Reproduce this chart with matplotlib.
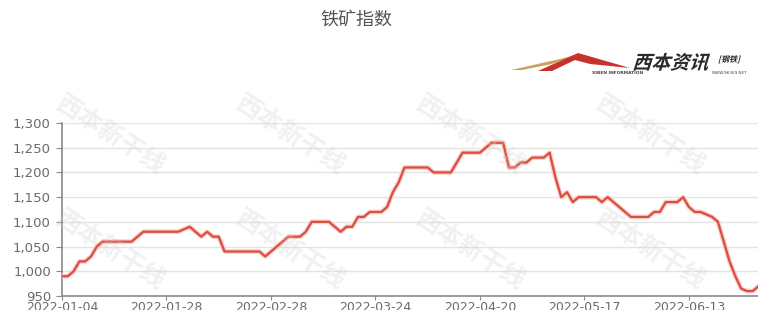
import matplotlib
matplotlib.use("Agg")
import matplotlib.pyplot as plt
from matplotlib.patches import Polygon, PathPatch
from matplotlib.textpath import TextPath
from matplotlib.font_manager import FontProperties
from matplotlib.transforms import Affine2D
import numpy as np

plt.rcParams['font.family'] = ['DejaVu Sans', 'Noto Sans CJK SC']

title = "铁矿指数"
tick_labels = ['2022-01-04', '2022-01-28', '2022-02-28', '2022-03-24',
               '2022-04-20', '2022-05-17', '2022-06-13']
tick_step = 18
index_values = [
    990, 990, 1000, 1020, 1020, 1030, 1050, 1060, 1060, 1060,
    1060, 1060, 1060, 1070, 1080, 1080, 1080, 1080, 1080, 1080,
    1080, 1085, 1090, 1080, 1070, 1080, 1070, 1070, 1040, 1040,
    1040, 1040, 1040, 1040, 1040, 1030, 1040, 1050, 1060, 1070,
    1070, 1070, 1080, 1100, 1100, 1100, 1100, 1090, 1080, 1090,
    1090, 1110, 1110, 1120, 1120, 1120, 1130, 1160, 1180, 1210,
    1210, 1210, 1210, 1210, 1200, 1200, 1200, 1200, 1220, 1240,
    1240, 1240, 1240, 1250, 1260, 1260, 1260, 1210, 1210, 1220,
    1220, 1230, 1230, 1230, 1240, 1190, 1150, 1160, 1140, 1150,
    1150, 1150, 1150, 1140, 1150, 1140, 1130, 1120, 1110, 1110,
    1110, 1110, 1120, 1120, 1140, 1140, 1140, 1150, 1130, 1120,
    1120, 1115, 1110, 1100, 1060, 1020, 990, 965, 960, 960,
    970,
]
y_ticks = [950, 1000, 1050, 1100, 1150, 1200, 1250, 1300]

W, H = 758, 310
fig = plt.figure(figsize=(W / 100, H / 100), dpi=100)

def fx(x):
    return x / W

def fy(y):
    return 1 - y / H

left_px, right_px, top_px, bot_px = 62, 758, 123, 296
ax = fig.add_axes([fx(left_px), fy(bot_px), fx(right_px - left_px), (bot_px - top_px) / H])

x = np.arange(len(index_values))
ax.plot(x, index_values, color='#f7cfc9', lw=3.4, solid_joinstyle='round',
        solid_capstyle='round', zorder=3)
ax.plot(x, index_values, color='#dc4c3f', lw=1.6, solid_joinstyle='round',
        solid_capstyle='round', zorder=4)

ax.set_xlim(0, 119.9)
ax.set_ylim(950, 1300)
ax.set_yticks(y_ticks)
ax.set_yticklabels([f"{v:,}" for v in y_ticks])
ax.set_xticks(range(0, len(index_values), tick_step)[:len(tick_labels)])
ax.set_xticklabels(tick_labels)

ax.grid(axis='y', color='#e4e4e4', lw=1)
ax.set_axisbelow(True)
for s in ['top', 'right']:
    ax.spines[s].set_visible(False)
for s in ['left', 'bottom']:
    ax.spines[s].set_color('#8a8a8a')
    ax.spines[s].set_linewidth(1.2)
ax.tick_params(axis='y', length=4, color='#8a8a8a', labelsize=9.5, labelcolor='#6a6a6a', pad=4)
ax.tick_params(axis='x', length=3, color='#8a8a8a', labelsize=9, labelcolor='#6a6a6a', pad=0.5)
ax.patch.set_alpha(0)

# faint watermarks
for (wx, wy) in [(110, 135), (290, 135), (470, 135), (650, 135),
                 (110, 250), (290, 250), (470, 250), (650, 250)]:
    fig.text(fx(wx), fy(wy), "西本新干线", fontsize=18, color='#d0d0d0', alpha=0.3,
             rotation=-33, ha='center', va='center', fontweight='bold',
             family=['Noto Sans CJK SC'], zorder=0)

# title
fig.text(fx(356), fy(20), title, fontsize=13, color='#555555', ha='center', va='center',
         family=['Noto Sans CJK SC'])

# logo
gold = Polygon([(fx(511), fy(70)), (fx(560), fy(59)), (fx(580), fy(54)), (fx(552), fy(64)),
                (fx(522), fy(70))], closed=True, transform=fig.transFigure,
               facecolor='#c9a35a', edgecolor='none', zorder=5)
red = Polygon([(fx(538), fy(71)), (fx(578), fy(53)), (fx(630), fy(68)), (fx(590), fy(64)),
               (fx(575), fy(60)), (fx(552), fy(71))], closed=True, transform=fig.transFigure,
              facecolor='#c8322c', edgecolor='none', zorder=6)
fig.add_artist(gold)
fig.add_artist(red)

fp = FontProperties(family='Noto Sans CJK SC', weight='bold')
tp = TextPath((0, 0), "西本资讯", size=19, prop=fp)
logo_tr = Affine2D().skew_deg(18, 0).translate(632, H - 69)
fig.add_artist(PathPatch(tp, transform=logo_tr, facecolor='#2a2a2a', edgecolor='none', zorder=7))
tp2 = TextPath((0, 0), "[钢铁]", size=8, prop=fp)
fig.add_artist(PathPatch(tp2, transform=Affine2D().skew_deg(15, 0).translate(718, H - 62),
                         facecolor='#2a2a2a', edgecolor='none', zorder=7))
fig.text(fx(592), fy(73), "XIBEN INFORMATION", fontsize=3.2, color='#444444',
         ha='left', va='center', fontweight='bold')
fig.text(fx(712), fy(73), "WWW.96369.NET", fontsize=3.0, color='#444444',
         ha='left', va='center')

fig.savefig("out.png", dpi=100)
